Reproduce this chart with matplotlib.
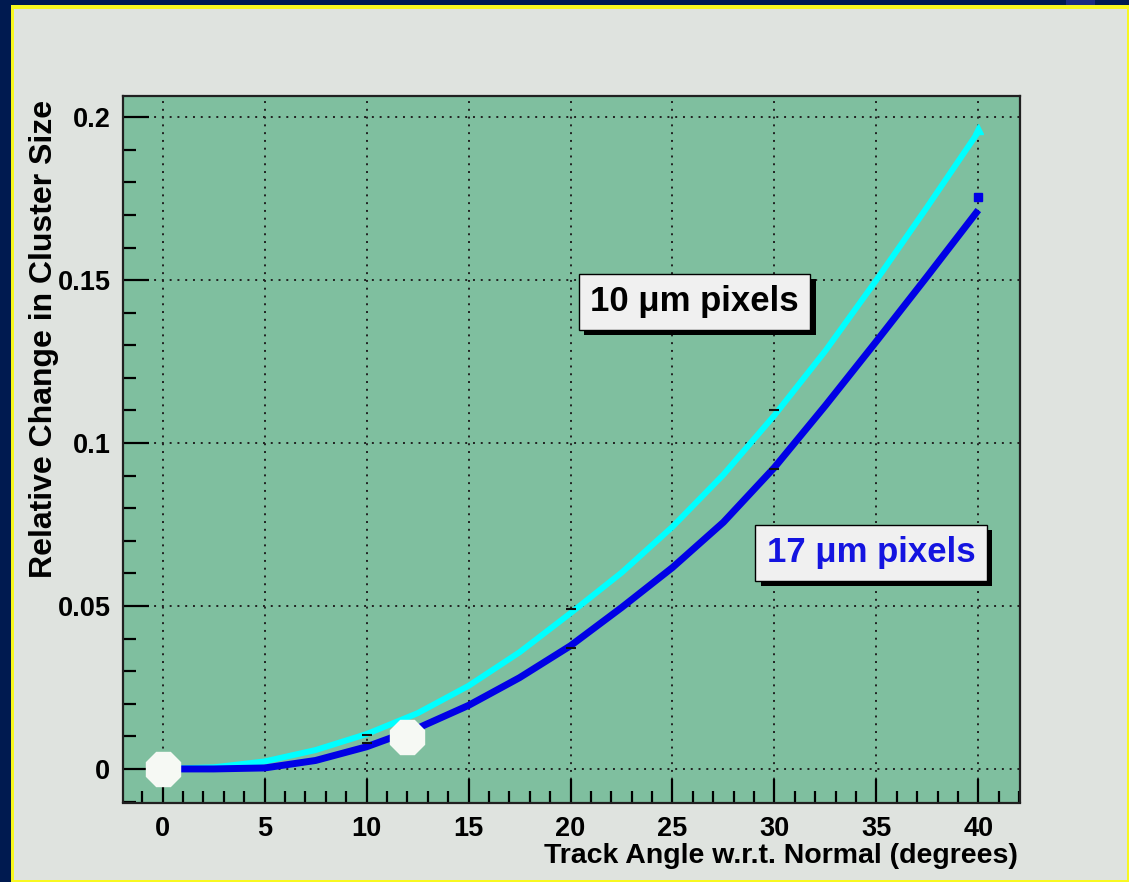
import matplotlib
matplotlib.use("Agg")
import matplotlib.pyplot as plt
from matplotlib.patches import Rectangle
import matplotlib.patheffects as pe

plt.rcParams['font.family'] = ['Liberation Sans', 'DejaVu Sans']
plt.rcParams['font.weight'] = 'bold'

# ---- data ----
angle = [0, 2.5, 5, 7.5, 10, 12.5, 15, 17.5, 20, 22.5, 25, 27.5, 30, 32.5, 35, 37.5, 40]
cyan_10um = [0.0, 0.0005, 0.0023, 0.0058, 0.0107, 0.0171, 0.0255, 0.0358, 0.0478, 0.0602,
             0.0743, 0.0903, 0.1085, 0.1283, 0.1500, 0.1725, 0.1955]
blue_17um = [0.0, 0.0, 0.0003, 0.0026, 0.0068, 0.0125, 0.0195, 0.0280, 0.0378, 0.0495,
             0.0618, 0.0757, 0.0925, 0.1115, 0.1312, 0.1512, 0.1715]

point_angle = [10, 20, 30, 40]
cyan_points = [0.0105, 0.0490, 0.1100, 0.1965]
blue_points = [0.0080, 0.0370, 0.0920, 0.1756]

white_x = [0, 12]
white_y = [0.0, 0.0098]

xticks = [0, 5, 10, 15, 20, 25, 30, 35, 40]
yticks = [0, 0.05, 0.1, 0.15, 0.2]
ytick_labels = ['0', '0.05', '0.1', '0.15', '0.2']

label_10 = "10 \u03bcm pixels"
label_17 = "17 \u03bcm pixels"
xlabel = "Track Angle w.r.t. Normal (degrees)"
ylabel = "Relative Change in Cluster Size"

# ---- figure ----
W, H = 1129, 882
fig = plt.figure(figsize=(W / 100, H / 100), dpi=100, facecolor='#001a50')

def frect(x0, y0, x1, y1, color):
    # pixel coords with top-left origin
    fig.patches.append(Rectangle((x0 / W, 1 - y1 / H), (x1 - x0) / W, (y1 - y0) / H,
                                 transform=fig.transFigure, facecolor=color,
                                 edgecolor='none', zorder=-10))

frect(11, 5, 1129, 882, '#f8f820')
frect(14, 9, 1127, 880, '#dfe3df')
frect(1066, 0, 1095, 5, '#1a2a80')

ax = fig.add_axes([123 / W, 1 - 802.5 / H, (1020 - 123) / W, (802.5 - 96) / H])
ax.set_zorder(1)
ax.set_facecolor('#7fbf9f')
ax.set_xlim(-1.947, 42.045)
ax.set_ylim(-0.0103, 0.2065)

for s in ax.spines.values():
    s.set_color('#202020')
    s.set_linewidth(1.6)

ax.set_xticks(xticks)
ax.set_xticks(range(-1, 43), minor=True)
ax.set_yticks(yticks)
ax.set_yticklabels(ytick_labels)
ax.set_yticks([i * 0.01 for i in range(-1, 21)], minor=True)
ax.tick_params(which='both', direction='in', width=1.6, color='black',
               top=False, right=False)
ax.tick_params(axis='x', which='major', length=17, labelsize=19.5, pad=10)
ax.tick_params(axis='x', which='minor', length=9)
ax.tick_params(axis='y', which='major', length=19, labelsize=19.5, pad=9)
ax.tick_params(axis='y', which='minor', length=9)
for lab in ax.get_xticklabels() + ax.get_yticklabels():
    lab.set_fontweight('bold')

ax.grid(True, which='major', color='#202020', linestyle=(0, (1, 3.0)), linewidth=1.4)
ax.set_axisbelow(True)

ax.plot(angle, cyan_10um, color='#00ffff', linewidth=4.3, zorder=3,
        solid_capstyle='butt', solid_joinstyle='round')
ax.plot(angle, blue_17um, color='#0000e6', linewidth=5.0, zorder=3,
        solid_capstyle='butt', solid_joinstyle='round')

ax.plot(point_angle[:3], cyan_points[:3], linestyle='none', marker='_', color='#101010',
        markersize=7, markeredgewidth=1.5, zorder=4)
ax.plot(point_angle[:3], blue_points[:3], linestyle='none', marker='_', color='#101010',
        markersize=7, markeredgewidth=1.5, zorder=4)
ax.plot(point_angle[3:], cyan_points[3:], linestyle='none', marker='^', color='#00ffff',
        markersize=7, zorder=4)
ax.plot(point_angle[3:], blue_points[3:], linestyle='none', marker='s', color='#0000e6',
        markersize=6, zorder=4)

ax.plot(white_x, white_y, linestyle='none', marker='8', markersize=27,
        color='#f6f9f4', markeredgecolor='#f6f9f4', zorder=5, clip_on=False)

shadow = [pe.withSimplePatchShadow(offset=(3.8, -3.8), shadow_rgbFace='black', alpha=1.0)]
t1 = ax.text(26.08, 0.1434, label_10, ha='center', va='center', fontsize=25,
             fontweight='bold', color='black', zorder=6,
             bbox=dict(boxstyle='square,pad=0.33', facecolor='#f0f0f0',
                       edgecolor='black', linewidth=1))
t2 = ax.text(34.74, 0.0663, label_17, ha='center', va='center', fontsize=25,
             fontweight='bold', color='#1414e0', zorder=6,
             bbox=dict(boxstyle='square,pad=0.33', facecolor='#f0f0f0',
                       edgecolor='black', linewidth=1))
t1.get_bbox_patch().set_path_effects(shadow)
t2.get_bbox_patch().set_path_effects(shadow)

fig.text(44 / W, 1 - 100 / H, ylabel, rotation=90, ha='center', va='top',
         fontsize=23, fontweight='bold', color='black')
fig.text(1018 / W, 1 - 856 / H, xlabel, ha='right', va='center',
         fontsize=20.5, fontweight='bold', color='black')

fig.savefig('out.png', dpi=100, facecolor=fig.get_facecolor())
